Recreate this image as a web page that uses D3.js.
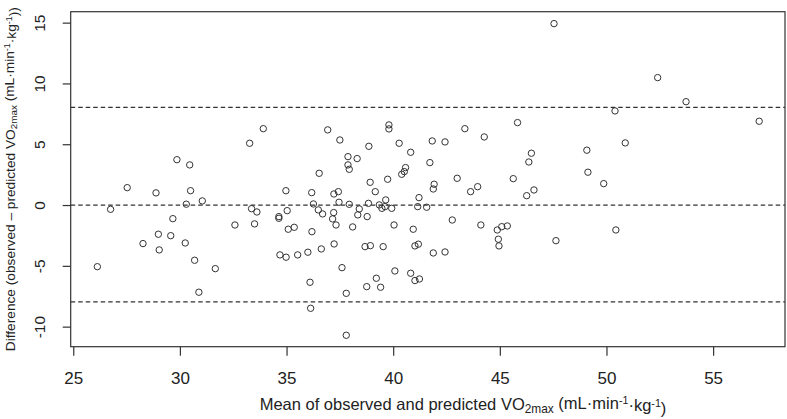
<!DOCTYPE html>
<html>
<head>
<meta charset="utf-8">
<script src="https://cdn.jsdelivr.net/npm/d3@7"></script>
<style>
  html, body { margin: 0; padding: 0; background: #fff; }
  svg { display: block; font-family: "Liberation Sans", Arial, sans-serif; }
  .pt { fill: none; stroke: #333; stroke-width: 1; }
  .ref { stroke: #333; stroke-width: 1.2; stroke-dasharray: 4.5,3; }
</style>
</head>
<body>
<svg id="chart" width="787" height="419"></svg>
<script>
// Bland–Altman data: mean of observed & predicted VO2max vs difference
const meanVals = [
  26.13, 26.75, 27.53, 28.27, 28.88, 28.99, 29.03, 29.67, 29.57, 29.86,
  30.25, 30.30, 30.46, 30.50, 30.69, 31.05, 30.89, 31.66, 32.58, 33.27,
  33.36, 33.61, 33.50, 33.91, 34.64, 34.64, 34.97, 35.03, 35.08, 35.36,
  34.69, 34.98, 35.52, 36.00, 36.63, 36.18, 36.26, 36.19, 36.49, 36.69,
  36.53, 36.93, 36.10, 36.13, 37.22, 37.43, 37.46, 37.21, 37.16, 37.32,
  37.23, 37.50, 37.60, 37.80, 37.80, 37.88, 37.88, 37.94, 38.31, 37.94,
  38.10, 38.41, 38.34, 38.86, 38.92, 39.16, 38.84, 38.78, 38.68, 38.93,
  39.21, 38.76, 39.35, 39.47, 39.65, 39.62, 39.93, 39.53, 40.04, 40.08,
  39.41, 39.80, 39.80, 39.74, 40.28, 40.82, 40.58, 40.52, 40.40, 41.21,
  41.15, 41.57, 40.94, 41.02, 41.18, 40.82, 41.02, 41.23, 41.72, 41.83,
  42.43, 41.92, 41.88, 41.88, 42.43, 42.77, 43.00, 43.36, 44.27, 43.63,
  43.96, 44.11, 47.54, 52.40, 53.73, 50.40, 57.16, 45.83, 50.88, 49.08,
  46.48, 46.36, 49.13, 45.63, 49.87, 46.60, 46.26, 44.88, 45.09, 45.35,
  44.93, 44.96, 47.63, 50.44
];
const diffVals = [
  -5.07, -0.35, 1.43, -3.17, 1.00, -2.40, -3.69, -1.12, -2.52, 3.73,
  -3.12, 0.07, 3.30, 1.18, -4.54, 0.34, -7.17, -5.23, -1.64, 5.08,
  -0.30, -0.57, -1.55, 6.28, -0.95, -1.09, 1.18, -0.46, -1.99, -1.83,
  -4.10, -4.29, -4.10, -3.88, -3.61, 1.02, 0.09, -2.19, -0.40, -0.73,
  2.61, 6.18, -6.35, -8.49, 0.91, 1.10, 0.23, -0.62, -1.14, -1.64,
  -3.20, 5.35, -5.15, -7.26, -10.71, 3.98, 3.30, 2.94, 3.82, 0.06,
  -1.80, -0.32, -0.81, 4.83, 1.87, 1.10, 0.14, -0.95, -3.42, -3.34,
  -6.02, -6.71, 0.01, -0.27, 0.42, -0.13, -0.27, -3.42, -1.64, -5.42,
  -6.76, 6.59, 6.26, 2.12, 5.08, 4.34, 3.08, 2.75, 2.53, 0.61,
  -0.13, -0.18, -1.99, -3.36, -3.22, -5.61, -6.21, -6.08, 3.49, 5.27,
  5.19, 1.71, 1.32, -3.94, -3.86, -1.23, 2.20, 6.28, 5.60, 1.10,
  1.51, -1.64, 14.92, 10.48, 8.50, 7.74, 6.89, 6.78, 5.11, 4.51,
  4.26, 3.54, 2.70, 2.17, 1.76, 1.24, 0.77, -2.05, -1.78, -1.72,
  -2.81, -3.36, -2.93, -2.05
];
// mean difference and limits of agreement
const refLines = [0.0, 8.03, -7.97];
const xTicks = [25, 30, 35, 40, 45, 50, 55];
const yTicks = [-10, -5, 0, 5, 10, 15];

const svg = d3.select("#chart");
const pLeft = 70.7, pRight = 785, pTop = 11.7, pBottom = 346.7;

const x = d3.scaleLinear().domain([24.88, 58.37]).range([pLeft, pRight]);
const y = d3.scaleLinear().domain([-11.65, 15.9]).range([pBottom, pTop]);

const points = meanVals.map((m, i) => ({ m, d: diffVals[i] }));

// Reference lines
svg.selectAll(".ref")
  .data(refLines)
  .join("line")
  .attr("class", "ref")
  .attr("x1", pLeft).attr("x2", pRight)
  .attr("y1", d => y(d)).attr("y2", d => y(d));

// Points
svg.selectAll(".pt")
  .data(points)
  .join("circle")
  .attr("class", "pt")
  .attr("cx", d => x(d.m))
  .attr("cy", d => y(d.d))
  .attr("r", 3.2);

// Box
svg.append("rect")
  .attr("x", pLeft).attr("y", pTop)
  .attr("width", pRight - pLeft).attr("height", pBottom - pTop)
  .attr("fill", "none").attr("stroke", "#333").attr("stroke-width", 1.2);

// X axis
const gx = svg.append("g")
  .attr("transform", `translate(0,${pBottom})`)
  .call(d3.axisBottom(x).tickValues(xTicks).tickSize(9).tickPadding(16).tickFormat(d3.format("d")));
gx.select(".domain").remove();
gx.selectAll("line").attr("stroke", "#333").attr("stroke-width", 1.2);
gx.selectAll("text").attr("font-size", 17).attr("fill", "#222")
  .attr("font-family", "Liberation Sans, Arial, sans-serif");

// Y axis (labels rotated, R style)
const gy = svg.append("g")
  .attr("transform", `translate(${pLeft},0)`)
  .call(d3.axisLeft(y).tickValues(yTicks).tickSize(8).tickFormat(d => String(d)));
gy.select(".domain").remove();
gy.selectAll("line").attr("stroke", "#333").attr("stroke-width", 1.2);
gy.selectAll("text")
  .attr("transform", "rotate(-90)")
  .attr("x", 0).attr("y", -25.5).attr("dy", 0)
  .attr("text-anchor", "middle")
  .attr("font-size", 15.5).attr("fill", "#222")
  .attr("font-family", "Liberation Sans, Arial, sans-serif");

// Axis titles with sub/superscripts
function unitTitle(t, pre, post) {
  t.append("tspan").text(pre);
  t.append("tspan").attr("font-size", "0.72em").attr("dy", "0.25em").text("2max");
  t.append("tspan").attr("dy", "-0.25em").text(" (mL·min");
  t.append("tspan").attr("font-size", "0.65em").attr("dy", "-0.42em").text("-1");
  t.append("tspan").attr("dy", "0.42em").text("·kg");
  t.append("tspan").attr("font-size", "0.65em").attr("dy", "-0.42em").text("-1");
  t.append("tspan").attr("dy", "0.42em").text(post);
}

const xt = svg.append("text")
  .attr("x", 463).attr("y", 410)
  .attr("text-anchor", "middle").attr("font-size", 16.5).attr("fill", "#222");
unitTitle(xt, "Mean of observed and predicted VO", ")");

const yt = svg.append("text")
  .attr("transform", `translate(14.5,${(pTop + pBottom) / 2}) rotate(-90)`)
  .attr("text-anchor", "middle").attr("font-size", 13.7).attr("fill", "#222");
unitTitle(yt, "Difference (observed – predicted VO", "))");
</script>
</body>
</html>
